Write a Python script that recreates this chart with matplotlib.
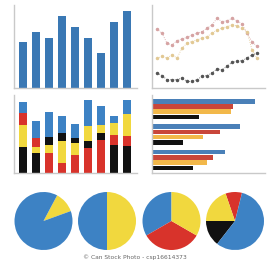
import matplotlib
matplotlib.use("Agg")
import matplotlib.pyplot as plt
import numpy as np

W, H = 274, 264

# ---- data ----
bar_values = [55, 67, 60, 87, 73, 60, 42, 80, 93]

line_red = [71, 66, 54, 52, 57, 59, 61, 64, 66, 68, 72, 76, 84, 80, 81, 84, 81, 77, 66, 56, 50]
line_orange = [36, 38, 36, 40, 36, 48, 54, 56, 58, 60, 62, 66, 70, 72, 74, 76, 75, 72, 68, 46, 36]
line_black = [18, 15, 10, 10, 10, 12, 8, 8, 10, 14, 15, 18, 23, 22, 26, 31, 32, 33, 36, 40, 42]

stack_black = [26, 20, 8, 8, 5, 7, 7, 28, 27]
stack_red = [12, 9, 20, 10, 18, 25, 33, 10, 10]
stack_yellow = [22, 6, 8, 22, 12, 15, 8, 12, 22]
stack_blue = [11, 17, 25, 17, 14, 26, 19, 7, 14]
stack_order = [
    ["black", "yellow", "red", "blue"],
    ["black", "yellow", "red", "blue"],
    ["red", "yellow", "black", "blue"],
    ["red", "yellow", "black", "blue"],
    ["red", "yellow", "black", "blue"],
    ["red", "black", "yellow", "blue"],
    ["red", "black", "yellow", "blue"],
    ["black", "red", "yellow", "blue"],
    ["black", "red", "yellow", "blue"],
]

hbar_blue = [103, 88, 73]
hbar_red = [81, 68, 61]
hbar_yellow = [79, 51, 55]
hbar_black = [47, 31, 41]

pie1 = [42, 318]
pie2 = [180, 180]
pie3 = [120, 120, 120]
pie4 = [33, 71, 52, 204]

watermark = "© Can Stock Photo - csp16614373"

# ---- colours ----
BLUE = "#3d82c4"
RED = "#d8332b"
YELLOW = "#f1d83e"
BLACK = "#111111"
SPINE = "#c9c9c9"
colors = {"black": BLACK, "red": RED, "yellow": YELLOW, "blue": BLUE}

fig = plt.figure(figsize=(W / 100, H / 100), dpi=100)
fig.patch.set_facecolor("white")


def px_axes(x0, y0, x1, y1):
    """axes from pixel box (top-left origin)"""
    return fig.add_axes([x0 / W, 1 - y1 / H, (x1 - x0) / W, (y1 - y0) / H])


def style(ax):
    for s in ["top", "right"]:
        ax.spines[s].set_visible(False)
    for s in ["left", "bottom"]:
        ax.spines[s].set_color(SPINE)
        ax.spines[s].set_linewidth(1.0)
    ax.set_xticks([])
    ax.set_yticks([])
    ax.patch.set_alpha(0)


# top-left bar chart
ax1 = px_axes(14, 5, 137, 88)
style(ax1)
x = np.arange(len(bar_values))
ax1.bar(x, bar_values, width=0.62, color="#3a78b4")
ax1.set_xlim(-0.69, 8.77)
ax1.set_ylim(0, 100)

# top-right line chart
ax2 = px_axes(152, 5, 265, 88)
style(ax2)
xi = np.arange(len(line_red))
ax2.plot(xi, line_red, ls=":", lw=0.6, color="#d6a3a3", marker="o", ms=1.5)
ax2.plot(xi, line_orange, ls=":", lw=0.6, color="#e2c994", marker="o", ms=1.5)
ax2.plot(xi, line_black, ls=":", lw=0.6, color="#555555", marker="o", ms=1.5)
ax2.set_xlim(-1, 21.6)
ax2.set_ylim(0, 100)

# middle-left stacked bars
ax3 = px_axes(14, 95, 137, 173)
style(ax3)
series = {"black": stack_black, "red": stack_red, "yellow": stack_yellow, "blue": stack_blue}
for i, order in enumerate(stack_order):
    bottom = 0
    for name in order:
        v = series[name][i]
        ax3.bar(i, v, bottom=bottom, width=0.62, color=colors[name])
        bottom += v
ax3.set_xlim(-0.69, 8.77)
ax3.set_ylim(0, 78)

# middle-right horizontal grouped bars
ax4 = px_axes(152, 95, 265, 173)
style(ax4)
g = np.array([2, 1, 0])
hb = [(hbar_blue, "#4a80b8", 0.306), (hbar_red, "#c9463a", 0.102),
      (hbar_yellow, "#f2b84a", -0.102), (hbar_black, BLACK, -0.306)]
for vals, c, off in hb:
    ax4.barh(g + off, vals, height=0.18, color=c)
ax4.set_xlim(0, 113)
ax4.set_ylim(-0.51, 2.55)

# pies
pies = [
    (43.5, pie1, [YELLOW, BLUE], 20),
    (107, pie2, [BLUE, YELLOW], 90),
    (171.5, pie3, [BLUE, RED, YELLOW], 90),
    (235, pie4, [RED, YELLOW, BLACK, BLUE], 76),
]
cy, r = 221, 29
for cx, vals, cols, sa in pies:
    ax = px_axes(cx - r, cy - r, cx + r, cy + r)
    ax.pie(vals, colors=cols, startangle=sa, counterclock=True,
           wedgeprops=dict(linewidth=0))
    ax.set_xlim(-1, 1)
    ax.set_ylim(-1, 1)
    ax.set_aspect("equal")
    ax.axis("off")

fig.text(135 / W, 1 - 257 / H, watermark, fontsize=4.3, color="#666666",
         ha="center", va="center")

fig.savefig("out.png", dpi=100, facecolor="white")
